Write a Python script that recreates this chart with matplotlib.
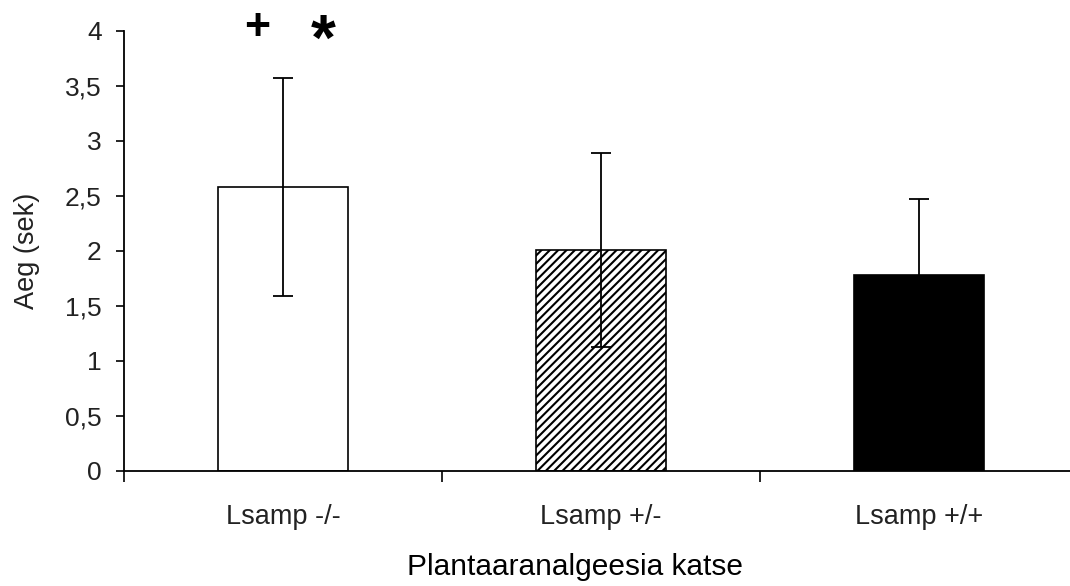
import matplotlib
matplotlib.use("Agg")
import matplotlib.pyplot as plt
import numpy as np

# andmed (loetud pildilt)
groups = ['Lsamp -/-', 'Lsamp +/-', 'Lsamp +/+']
means = [2.58, 2.01, 1.785]
errs = [0.99, 0.88, 0.685]
colors = ['white', 'white', 'black']
hatches = ['', '////', '']
marks = ['+', '*']
mark_x = [-0.08, 0.125]
mark_y = [3.92, 3.74]
mark_size = [32, 46]

plt.rcParams['font.family'] = ['Liberation Sans', 'DejaVu Sans']
plt.rcParams['hatch.linewidth'] = 1.5

fig = plt.figure(figsize=(10.7, 5.86), dpi=100)
ax = fig.add_axes([124/1070, 1-471/586, 954/1070, 440/586])

x = np.arange(len(groups))
for i in range(len(groups)):
    ax.bar(x[i], means[i], width=0.406, color=colors[i], edgecolor='black',
           hatch=hatches[i], linewidth=1.2, zorder=2)
ax.errorbar(x, means, yerr=errs, fmt='none', ecolor='black', elinewidth=1.3,
            capsize=7, capthick=1.3, zorder=3)

ax.set_xlim(-0.5, 2.5)
ax.set_ylim(0, 4)
ax.set_yticks(np.arange(0, 4.01, 0.5))
ax.set_yticklabels(['0', '0,5', '1', '1,5', '2', '2,5', '3', '3,5', '4'])
ax.set_xticks([-0.5, 0.5, 1.5, 2.5])
ax.set_xticklabels([])
ax.set_xticks(x, minor=True)
ax.set_xticklabels(groups, minor=True)

ax.spines['top'].set_visible(False)
ax.spines['right'].set_visible(False)
ax.spines['left'].set_linewidth(1.3)
ax.spines['bottom'].set_linewidth(1.3)
ax.tick_params(axis='y', direction='out', length=6, width=1.2, pad=10,
               labelsize=19, labelcolor='#222222')
ax.tick_params(axis='x', which='major', direction='out', length=8, width=1.2)
ax.tick_params(axis='x', which='minor', length=0, pad=24, labelsize=19.5,
               labelcolor='#222222')

for m, mx, my, ms in zip(marks, mark_x, mark_y, mark_size):
    ax.text(mx, my, m, fontsize=ms, fontweight='bold', ha='center', va='baseline')

fig.text(27/1070, 1-251/586, 'Aeg (sek)', rotation=90, ha='center', va='center',
         fontsize=19.5, color='#222222')
fig.text(575/1070, 1-575/586, 'Plantaaranalgeesia katse', ha='center',
         va='baseline', fontsize=21.5)

fig.savefig('out.png', dpi=100)
